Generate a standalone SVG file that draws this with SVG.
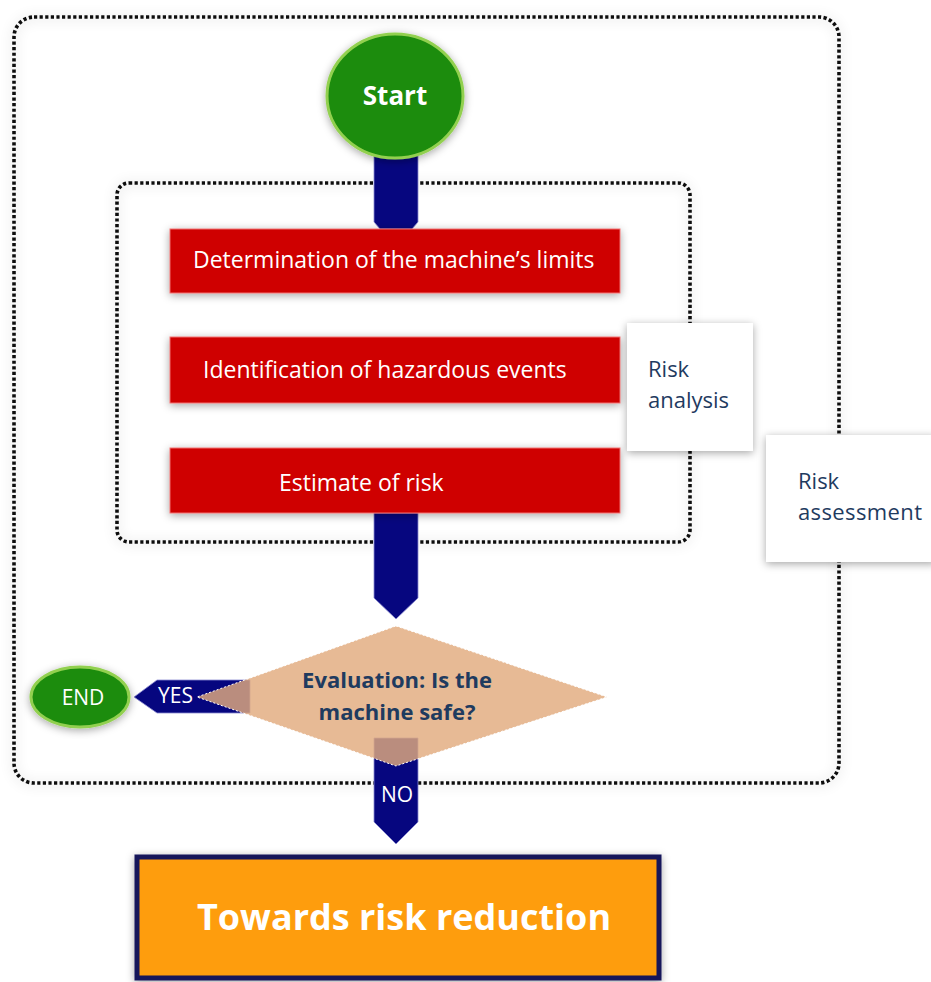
<svg xmlns="http://www.w3.org/2000/svg" width="931" height="982" viewBox="0 0 931 982">
<defs>
<filter id="sh" x="-20%" y="-20%" width="140%" height="140%">
<feDropShadow dx="0" dy="2" stdDeviation="4" flood-color="#000" flood-opacity="0.35"/>
</filter>
<filter id="shl" x="-10%" y="-10%" width="120%" height="120%">
<feDropShadow dx="0" dy="1" stdDeviation="6" flood-color="#000" flood-opacity="0.22"/>
</filter>
<style>
.frame{fill:none;stroke:#111;stroke-width:3.6;stroke-dasharray:3.2 2.4}
.red{fill:#cf0000;stroke:#f07070;stroke-width:1}
.rt{font-family:"Open Sans","DejaVu Sans",sans-serif;font-size:23px;fill:#fff}
.lbl{font-family:"Open Sans","DejaVu Sans",sans-serif;font-size:22px;fill:#1f3b5f}
.wt{font-family:"Open Sans","DejaVu Sans",sans-serif;font-size:21px;fill:#fff}
.arr{fill:#06067f;stroke:#8c8cd0;stroke-width:0.8}
.note{fill:#fff}
</style>
</defs>
<rect width="931" height="982" fill="#fff"/>

<g id="frames">
<rect id="outer-frame" class="frame" x="14" y="17" width="825" height="766" rx="20" filter="url(#shl)"/>
<rect id="inner-frame" class="frame" x="117" y="183" width="573" height="359" rx="12" filter="url(#shl)"/>
</g>

<g id="connectors">
<path class="arr" d="M374,150 H418 V222 L412,229 H380 L374,222 Z"/>
<path class="arr" d="M374,513 H418 V598 L396,619 L374,598 Z"/>
<path class="arr" d="M374,738 H418 V822 L396,844 L374,822 Z"/>
<path class="arr" d="M134,697 L157,680 H250 V713 H157 Z"/>
</g>

<g id="start">
<ellipse cx="395" cy="96" rx="68" ry="62" fill="#1a8c0c" stroke="#92d050" stroke-width="3" filter="url(#sh)"/>
<text x="395" y="105" text-anchor="middle" font-family="'Open Sans','DejaVu Sans',sans-serif" font-size="26" font-weight="bold" fill="#fff">Start</text>
</g>

<g id="limits">
<rect class="red" x="170" y="229" width="450" height="64" filter="url(#sh)"/>
<text class="rt" x="193" y="268">Determination of the machine’s limits</text>
</g>

<g id="hazards">
<rect class="red" x="170" y="337" width="450" height="66" filter="url(#sh)"/>
<text class="rt" x="203" y="378">Identification of hazardous events</text>
</g>

<g id="estimate">
<rect class="red" x="170" y="448" width="450" height="65" filter="url(#sh)"/>
<text class="rt" x="279" y="491">Estimate of risk</text>
</g>

<g id="risk-analysis">
<rect class="note" x="627" y="323" width="126" height="128" filter="url(#sh)"/>
<text class="lbl" x="648" y="377">Risk</text>
<text class="lbl" x="648" y="408">analysis</text>
</g>

<g id="risk-assessment">
<rect class="note" x="766" y="435" width="170" height="127" filter="url(#sh)"/>
<text class="lbl" x="798" y="489">Risk</text>
<text class="lbl" x="798" y="520" textLength="124">assessment</text>
</g>

<g id="evaluation">
<polygon points="396,626 607,697 396,766 197,697" fill="#e2ab7e" fill-opacity="0.82" stroke="#fff" stroke-width="1" stroke-dasharray="2 2"/>
<text x="397" y="688" text-anchor="middle" font-family="'Open Sans','DejaVu Sans',sans-serif" font-size="22" font-weight="bold" fill="#1f3b5f">Evaluation: Is the</text>
<text x="397" y="720" text-anchor="middle" font-family="'Open Sans','DejaVu Sans',sans-serif" font-size="22" font-weight="bold" fill="#1f3b5f">machine safe?</text>
</g>

<g id="connector-labels">
<text class="wt" x="158" y="703">YES</text>
<text class="wt" x="381" y="802">NO</text>
</g>

<g id="end">
<ellipse cx="80" cy="697" rx="49" ry="30" fill="#1a8c0c" stroke="#92d050" stroke-width="3" filter="url(#sh)"/>
<text x="83" y="705" text-anchor="middle" font-family="'Open Sans','DejaVu Sans',sans-serif" font-size="21" fill="#fff">END</text>
</g>

<g id="reduction">
<rect x="137" y="857" width="522" height="121" fill="#fe9d0a" stroke="#14145a" stroke-width="5" filter="url(#sh)"/>
<text x="404" y="930" text-anchor="middle" font-family="'Open Sans','DejaVu Sans',sans-serif" font-size="36" font-weight="bold" fill="#fff">Towards risk reduction</text>
</g>
</svg>
